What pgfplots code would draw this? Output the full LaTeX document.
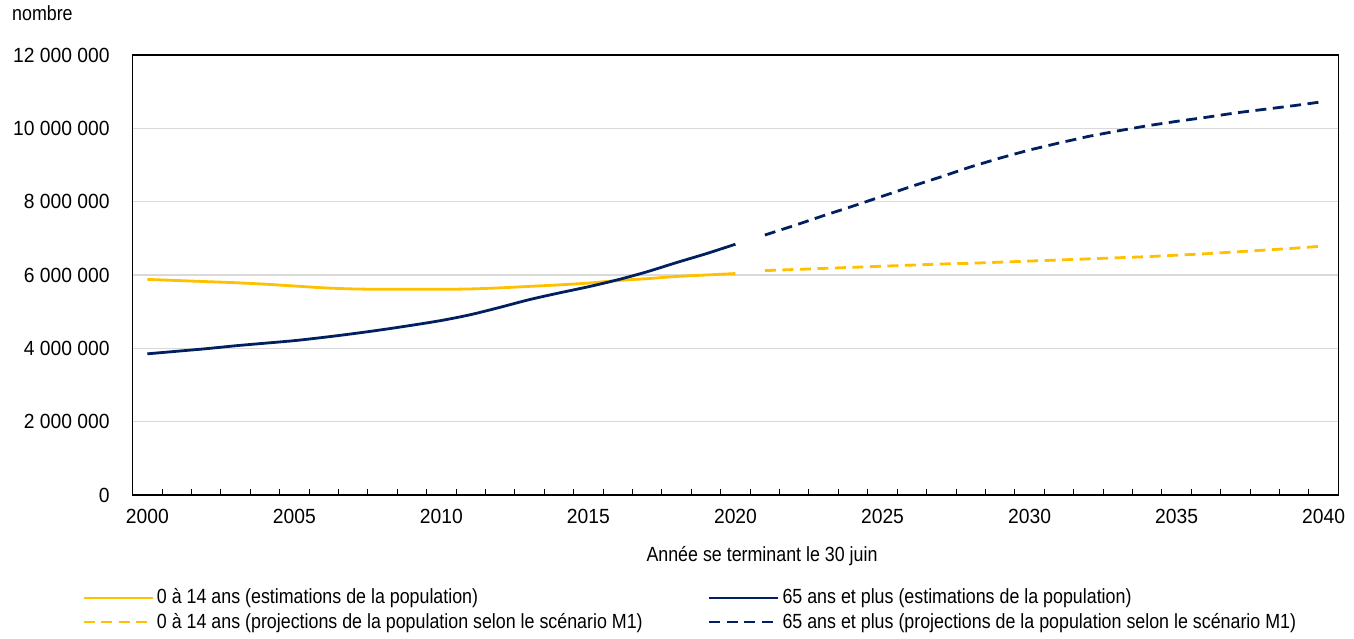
\documentclass[border=0pt]{standalone}
\usepackage{fontspec}
\setmainfont{Liberation Sans}[FakeStretch=0.87]
\newfontfamily\tickfont{Liberation Sans}[FakeStretch=0.94]
\usepackage{pgfplots}
\pgfplotsset{compat=1.18}
\definecolor{gold}{HTML}{FFC000}
\definecolor{navy}{HTML}{002060}
\begin{document}
\fontsize{20.5}{24}\selectfont
\begin{tikzpicture}
\useasboundingbox (-132.6pt,-143pt) rectangle (1221.4pt,495pt);
\begin{axis}[
  scale only axis, width=1205.8pt, height=440pt,
  xmin=1999.5, xmax=2040.5, ymin=0, ymax=12000000,
  xtick={2000,2005,...,2040},
  xticklabels={2000,2005,2010,2015,2020,2025,2030,2035,2040},
  minor xtick={1999.5,2000.5,...,2040.5},
  ytick={0,2000000,4000000,6000000,8000000,10000000,12000000},
  yticklabels={0,2 000 000,4 000 000,6 000 000,8 000 000,10 000 000,12 000 000},
  scaled y ticks=false,
  tick label style={font=\tickfont},
  major tick length=0pt, minor tick length=6pt, tick align=inside,
  xtick pos=bottom, ytick style={draw=none},
  tick style={black, line width=1pt},
  ymajorgrids, grid style={gray!30, line width=1.2pt},
  axis line style={black, line width=1.2pt},
  yticklabel style={xshift=-16pt},
  xticklabel style={yshift=-7pt},
  legend columns=2,
  legend style={draw=none, fill=none, at={(-0.0420,-0.206)}, anchor=north west,
    inner sep=0pt, row sep=0pt, nodes={inner sep=3pt},
    /tikz/every even column/.append style={column sep=62pt}},
  legend cell align=left,
  legend image code/.code={\draw[#1] (0pt,0pt) -- (64pt,0pt); \path (0pt,0pt) -- (69pt,0pt);},
]
\addplot[gold, line width=2.8pt, smooth] coordinates {
(2000,5880000)(2001,5850000)(2002,5820000)(2003,5790000)(2004,5750000)(2005,5700000)
(2006,5650000)(2007,5620000)(2008,5610000)(2009,5610000)(2010,5610000)(2011,5620000)
(2012,5650000)(2013,5690000)(2014,5730000)(2015,5780000)(2016,5850000)(2017,5900000)
(2018,5960000)(2019,6000000)(2020,6040000)};
\addlegendentry{0 à 14 ans (estimations de la population)}
\addplot[navy, line width=2.8pt, smooth] coordinates {
(2000,3850000)(2001,3920000)(2002,3990000)(2003,4070000)(2004,4140000)(2005,4210000)
(2006,4300000)(2007,4400000)(2008,4510000)(2009,4630000)(2010,4760000)(2011,4920000)
(2012,5120000)(2013,5330000)(2014,5510000)(2015,5680000)(2016,5870000)(2017,6090000)
(2018,6340000)(2019,6580000)(2020,6840000)};
\addlegendentry{65 ans et plus (estimations de la population)}
\addplot[gold, line width=2.8pt, dash pattern=on 11pt off 6.5pt] coordinates {
(2021,6120000)(2022,6150000)(2023,6180000)(2024,6210000)(2025,6240000)(2026,6270000)
(2027,6300000)(2028,6320000)(2029,6350000)(2030,6380000)(2031,6410000)(2032,6440000)
(2033,6470000)(2034,6500000)(2035,6540000)(2036,6580000)(2037,6630000)(2038,6680000)
(2039,6730000)(2040,6790000)};
\addlegendentry{0 à 14 ans (projections de la population selon le scénario M1)}
\addplot[navy, line width=2.8pt, dash pattern=on 11pt off 6.5pt] coordinates {
(2021,7090000)(2022,7350000)(2023,7620000)(2024,7880000)(2025,8150000)(2026,8420000)
(2027,8680000)(2028,8950000)(2029,9190000)(2030,9410000)(2031,9600000)(2032,9780000)
(2033,9930000)(2034,10070000)(2035,10190000)(2036,10300000)(2037,10420000)(2038,10520000)
(2039,10620000)(2040,10730000)};
\addlegendentry{65 ans et plus (projections de la population selon le scénario M1)}
\end{axis}
\node at (629.4pt,-61pt) {Année se terminant le 30 juin};
\node[anchor=base west, inner sep=0pt] at (-120.6pt,474pt) {nombre};
\end{tikzpicture}
\end{document}
